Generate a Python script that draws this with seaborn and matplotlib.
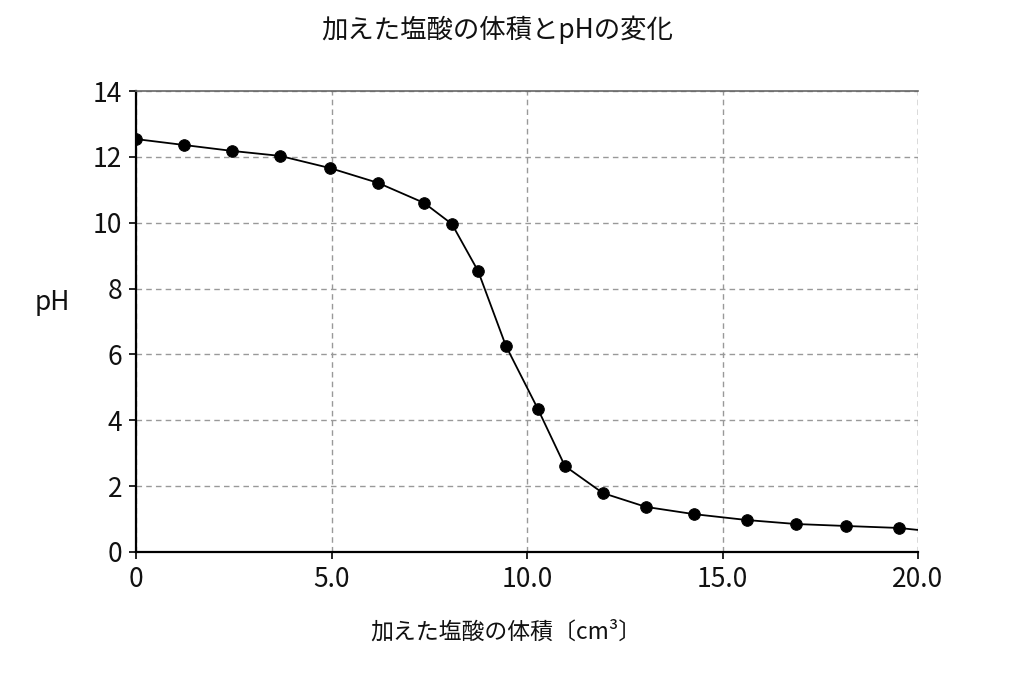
import matplotlib
matplotlib.use('Agg')
import matplotlib.pyplot as plt
import seaborn as sns
import pandas as pd

# measured points (volume of HCl in cm3, pH)
volume = [0.0, 1.23, 2.46, 3.68, 4.96, 6.19, 7.37, 8.08, 8.75, 9.46,
          10.28, 10.97, 11.94, 13.04, 14.27, 15.63, 16.88, 18.16, 19.51]
ph = [12.54, 12.36, 12.18, 12.03, 11.66, 11.21, 10.60, 9.96, 8.53, 6.26,
      4.34, 2.61, 1.79, 1.37, 1.15, 0.97, 0.85, 0.79, 0.73]

# the drawn curve runs on to the right edge
line_end_volume = [20.0]
line_end_ph = [0.67]

x_ticks = [0, 5, 10, 15, 20]
x_ticklabels = ['0', '5.0', '10.0', '15.0', '20.0']
y_ticks = [0, 2, 4, 6, 8, 10, 12, 14]

title = '加えた塩酸の体積とpHの変化'
xlabel = '加えた塩酸の体積〔cm³〕'
ylabel = 'pH'

sns.set_theme(style='white')
plt.rcParams['font.family'] = ['Noto Sans CJK JP', 'DejaVu Sans']

df_pts = pd.DataFrame({'volume': volume, 'pH': ph})
df_line = pd.DataFrame({'volume': volume + line_end_volume, 'pH': ph + line_end_ph})

fig = plt.figure(figsize=(10.24, 6.83), dpi=100)
ax = fig.add_axes([136 / 1024, 1 - 552 / 683, (918 - 136) / 1024, (552 - 91) / 683])

sns.lineplot(data=df_line, x='volume', y='pH', ax=ax, color='black', linewidth=1.3,
             sort=False, zorder=3)
sns.scatterplot(data=df_pts, x='volume', y='pH', ax=ax, color='black', s=70,
                edgecolor='black', zorder=4)

ax.set_xlim(0, 20)
ax.set_ylim(0, 14)
ax.set_xticks(x_ticks)
ax.set_xticklabels(x_ticklabels)
ax.set_yticks(y_ticks)

ax.grid(True, linestyle=(0, (4, 3)), color='#999999', linewidth=1.0)
ax.set_axisbelow(True)

for side in ['left', 'bottom']:
    ax.spines[side].set_color('black')
    ax.spines[side].set_linewidth(1.6)
ax.spines['top'].set_color('#666666')
ax.spines['top'].set_linewidth(1.2)
ax.spines['right'].set_visible(False)
ax.axvline(20, color='#999999', linestyle=(0, (4, 3)), linewidth=1.0)

ax.tick_params(axis='both', direction='out', length=5, width=1.2, color='black',
               labelcolor='#111111', labelsize=19, pad=5, left=True, bottom=True)

ax.set_xlabel('')
ax.set_ylabel('')
fig.text(506 / 1024, 1 - 632 / 683, xlabel, ha='center', va='center', fontsize=16.5,
         color='#111111')
fig.text(52 / 1024, 1 - 303 / 683, ylabel, ha='center', va='center', fontsize=19,
         color='#111111')
fig.text(497 / 1024, 1 - 30 / 683, title, ha='center', va='center', fontsize=19,
         color='#111111')

fig.savefig('out.png', dpi=100, facecolor='white')
